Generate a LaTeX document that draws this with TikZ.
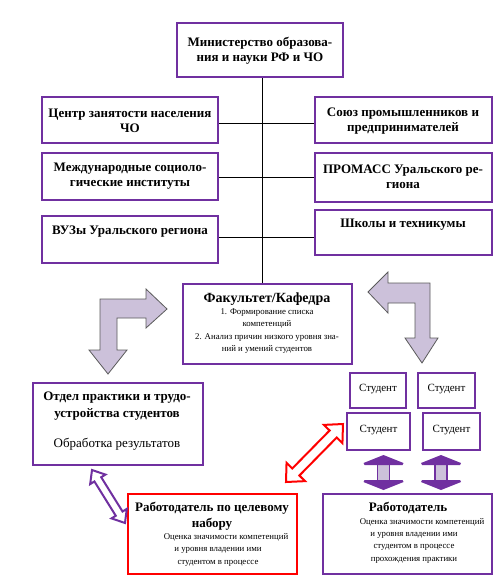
\documentclass[tikz,border=0pt]{standalone}
\usepackage{fontspec}
\setmainfont{Liberation Serif}
\usetikzlibrary{calc}
\definecolor{purp}{HTML}{7030A0}
\definecolor{lav}{HTML}{CCC1DA}
\definecolor{arrgray}{HTML}{5A5A5A}
\begin{document}
\begin{tikzpicture}[x=1pt,y=-1pt,
 box/.style={draw=purp, line width=2.4pt, fill=white, inner sep=0pt},
 redbox/.style={draw=red, line width=2.4pt, fill=white, inner sep=0pt},
 hdr/.style={font=\fontsize{13}{15}\selectfont\bfseries, align=center, inner sep=0pt},
 bighdr/.style={font=\fontsize{14}{16}\selectfont\bfseries, align=center, inner sep=0pt},
 sml/.style={font=\fontsize{8.8}{12.5}\selectfont, align=center, inner sep=0pt},
 reg/.style={font=\fontsize{13}{15}\selectfont, align=center, inner sep=0pt},
 stud/.style={font=\fontsize{11}{12}\selectfont, inner sep=0pt},
 link/.style={draw=black, line width=0.8pt},
 bent/.style={fill=lav, draw=arrgray, line width=0.8pt, line join=miter},
 hollowred/.style={fill=white, draw=red, line width=2pt, line join=miter},
 hollowpurp/.style={fill=white, draw=purp, line width=2pt, line join=miter},
]
\useasboundingbox (0,0) rectangle (501,586);

\coordinate (vx) at (262,0);
\coordinate (h1) at (0,123);
\coordinate (h2) at (0,177);
\coordinate (h3) at (0,237);

% boxes
\node[box, minimum width=166, minimum height=54] (min) at (260,50) {};
\node[box, minimum width=176, minimum height=46] (czn) at (130,120) {};
\node[box, minimum width=177, minimum height=46] (soy) at (403.5,120) {};
\node[box, minimum width=176, minimum height=47] (mez) at (130,176.5) {};
\node[box, minimum width=177, minimum height=49] (pro) at (403.5,177.5) {};
\node[box, minimum width=176, minimum height=47] (vuz) at (130,239.5) {};
\node[box, minimum width=177, minimum height=45] (shk) at (403.5,232.5) {};
\node[box, minimum width=169, minimum height=80] (fac) at (267.5,324) {};
\node[box, minimum width=170, minimum height=82] (otd) at (118,424) {};
\node[redbox, minimum width=169, minimum height=80] (rab1) at (212.5,534) {};
\node[box, minimum width=169, minimum height=80] (rab2) at (407.5,534) {};
\node[box, minimum width=56, minimum height=35] (s1) at (378,390.5) {};
\node[box, minimum width=57, minimum height=35] (s2) at (446.5,390.5) {};
\node[box, minimum width=63, minimum height=37] (s3) at (378.5,431.5) {};
\node[box, minimum width=57, minimum height=37] (s4) at (451.5,431.5) {};

\draw[link] (min.south -| vx) -- (fac.north -| vx);
\draw[link] (czn.east |- h1) -- (soy.west |- h1);
\draw[link] (mez.east |- h2) -- (pro.west |- h2);
\draw[link] (vuz.east |- h3) -- (shk.west |- h3);

% texts
\node[hdr] (tmin) at (260,51) {Министерство образова-\\ния и науки РФ и ЧО};
\node[hdr] (tczn) at (130,121) {Центр занятости населения\\ЧО};
\node[hdr] (tsoy) at (403,121) {Союз промышленников и\\предпринимателей};
\node[hdr] (tmez) at (130,176) {Международные социоло-\\гические институты};
\node[hdr] (tpro) at (403,177) {ПРОМАСС Уральского ре-\\гиона};
\node[hdr] (tvuz) at (130,232) {ВУЗы Уральского региона};
\node[hdr] (tshk) at (403,225) {Школы и техникумы};

\node[bighdr] (tfac) at (267,299) {Факультет/Кафедра};
\node[sml, anchor=north] (tfac2) at (267,308) {1. Формирование списка\\компетенций\\2. Анализ причин низкого уровня зна-\\ний и умений студентов};

\node[hdr, font=\fontsize{13}{17}\selectfont\bfseries] (totd) at (117,406) {Отдел практики и трудо-\\устройства студентов};
\node[reg] (totd2) at (117,444) {Обработка результатов};

\node[hdr, font=\fontsize{13}{16}\selectfont\bfseries] (trab1) at (212,516) {Работодатель по целевому\\набору};
\node[sml, anchor=north] (trab1b) at (218,533) {\hspace*{16pt}Оценка значимости компетенций\\и уровня владении ими\\студентом в процессе};

\node[hdr] (trab2) at (408,508) {Работодатель};
\node[sml, anchor=north, font=\fontsize{8.8}{12.3}\selectfont] (trab2b) at (414,518) {\hspace*{16pt}Оценка значимости компетенций\\и уровня владении ими\\студентом в процессе\\прохождения практики};

\node[stud] at ($(s1)+(0,-1)$) {Студент};
\node[stud] at ($(s2)+(0,-1)$) {Студент};
\node[stud] at ($(s3)+(0,-1)$) {Студент};
\node[stud] at ($(s4)+(0,-1)$) {Студент};

% bent block arrows
\draw[bent] (167,309) -- (146,289) -- (146,299) -- (100,299) -- (100,350) -- (89,350)
  -- (108,374) -- (127,350) -- (117,350) -- (117,318) -- (146,318) -- (146,328) -- cycle;
\draw[bent] (368,292) -- (388,272) -- (388,283) -- (430,283) -- (430,338) -- (438,338)
  -- (422,363) -- (405,338) -- (415,338) -- (415,303) -- (388,303) -- (388,313) -- cycle;

% diagonal double arrows
\begin{scope}[shift={(286,482)}, rotate=45.5]
\draw[hollowred] (0,0) -- (14,13) -- (14,5) -- (67.3,5) -- (67.3,13) -- (81.3,0)
  -- (67.3,-13) -- (67.3,-5) -- (14,-5) -- (14,-13) -- cycle;
\end{scope}
\begin{scope}[shift={(92,470)}, rotate=-58.1]
\draw[hollowpurp] (0,0) -- (11,9) -- (11,4) -- (51.4,4) -- (51.4,9) -- (62.4,0)
  -- (51.4,-9) -- (51.4,-4) -- (11,-4) -- (11,-9) -- cycle;
\end{scope}

% vertical double arrows
\foreach \c in {383.5,441}{
  \draw[fill=lav, draw=purp, line width=1.4pt] (\c-6,462) rectangle (\c+6,483);
  \fill[purp] (\c,455) -- (\c+20,463) -- (\c+19,465) -- (\c-19,465) -- (\c-20,463) -- cycle;
  \fill[purp] (\c,490) -- (\c+20,482) -- (\c+19,480) -- (\c-19,480) -- (\c-20,482) -- cycle;
}
\end{tikzpicture}
\end{document}
